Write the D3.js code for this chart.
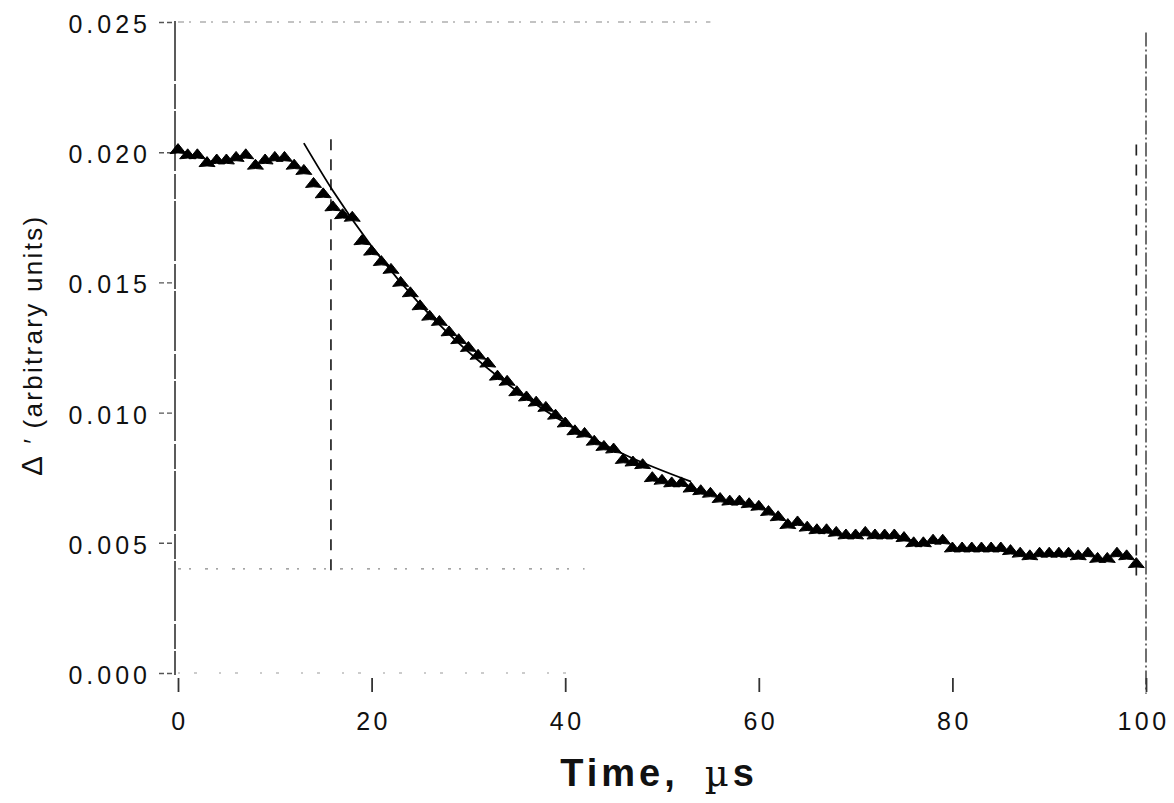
<!DOCTYPE html>
<html>
<head>
<meta charset="utf-8">
<script src="https://cdn.jsdelivr.net/npm/d3@7"></script>
<style>
  html, body { margin: 0; padding: 0; background: #fff; }
  svg { display: block; }
  text { font-family: "Liberation Sans", Arial, Helvetica, sans-serif; fill: #111; }
</style>
</head>
<body>
<svg id="chart" width="1174" height="803"></svg>
<script>
// Absorbance transient: time (µs) and signal (arbitrary units)
const timeUs = [
  0, 1, 2, 3, 4, 5, 6, 7, 8, 9,
  10, 11, 12, 13, 14, 15, 16, 17, 18, 19,
  20, 21, 22, 23, 24, 25, 26, 27, 28, 29,
  30, 31, 32, 33, 34, 35, 36, 37, 38, 39,
  40, 41, 42, 43, 44, 45, 46, 47, 48, 49,
  50, 51, 52, 53, 54, 55, 56, 57, 58, 59,
  60, 61, 62, 63, 64, 65, 66, 67, 68, 69,
  70, 71, 72, 73, 74, 75, 76, 77, 78, 79,
  80, 81, 82, 83, 84, 85, 86, 87, 88, 89,
  90, 91, 92, 93, 94, 95, 96, 97, 98, 99
];
const signal = [
  0.0201, 0.0199, 0.0199, 0.0196, 0.0197, 0.0197, 0.0198, 0.0199, 0.0195, 0.0197,
  0.0198, 0.0198, 0.0195, 0.0193, 0.0188, 0.0184, 0.0179, 0.0176, 0.0175, 0.0166,
  0.0162, 0.0158, 0.0155, 0.0150, 0.0146, 0.0141, 0.0137, 0.0135, 0.0131, 0.0128,
  0.0125, 0.0122, 0.0119, 0.0114, 0.0112, 0.0108, 0.0106, 0.0104, 0.0102, 0.0099,
  0.0096, 0.0093, 0.0092, 0.0089, 0.0087, 0.0086, 0.0082, 0.0081, 0.0080, 0.0075,
  0.0074, 0.0073, 0.0073, 0.0071, 0.0070, 0.0069, 0.0067, 0.0066, 0.0066, 0.0065,
  0.0064, 0.0062, 0.0060, 0.0057, 0.0058, 0.0056, 0.0055, 0.0055, 0.0054, 0.0053,
  0.0053, 0.0054, 0.0053, 0.0053, 0.0053, 0.0052, 0.0050, 0.0050, 0.0051, 0.0051,
  0.0048, 0.0048, 0.0048, 0.0048, 0.0048, 0.0048, 0.0047, 0.0046, 0.0045, 0.0046,
  0.0046, 0.0046, 0.0046, 0.0045, 0.0046, 0.0044, 0.0044, 0.0046, 0.0045, 0.0042
];

// Fitted decay curve
const fitTime  = [13, 16, 20, 25, 30, 35, 40, 46, 53];
const fitValue = [0.02035, 0.01852, 0.01639, 0.01416, 0.01233, 0.01083, 0.0096, 0.00841, 0.00735];

// Reference markers
const windowStart = 15.8;   // left cursor
const windowEnd = 99;       // right cursor
const baselineLevel = 0.004;
const baselineEnd = 42;

// Axis ticks
const xTicks = [0, 20, 40, 60, 80, 100];
const yTicks = [0, 0.005, 0.010, 0.015, 0.020, 0.025];

const svg = d3.select("#chart");
const x = d3.scaleLinear().domain([0, 100]).range([178, 1146]);
const y = d3.scaleLinear().domain([0, 0.025]).range([673, 22]);

const ink = "#111";

// frame remnants: left axis, faint top and bottom rules
svg.append("line")
  .attr("x1", x(0) - 3).attr("x2", x(0) - 3)
  .attr("y1", y(0.025) - 1).attr("y2", y(0) + 2)
  .attr("stroke", "#333").attr("stroke-width", 1.6)
  .attr("stroke-dasharray", "60,3,25,2");
svg.append("line")
  .attr("x1", x(0)).attr("x2", x(55))
  .attr("y1", y(0.025)).attr("y2", y(0.025))
  .attr("stroke", "#888").attr("stroke-width", 1.2)
  .attr("stroke-dasharray", "6,5,2,9");
svg.append("line")
  .attr("x1", x(0)).attr("x2", x(41))
  .attr("y1", y(0)).attr("y2", y(0))
  .attr("stroke", "#999").attr("stroke-width", 1.1)
  .attr("stroke-dasharray", "2,14,3,22");

// baseline level
svg.append("line")
  .attr("x1", x(0)).attr("x2", x(baselineEnd))
  .attr("y1", y(baselineLevel)).attr("y2", y(baselineLevel))
  .attr("stroke", "#888").attr("stroke-width", 1.1)
  .attr("stroke-dasharray", "3,8,2,14");

// cursors
svg.append("line")
  .attr("x1", x(windowStart)).attr("x2", x(windowStart))
  .attr("y1", y(0.0205)).attr("y2", y(0.0037))
  .attr("stroke", "#222").attr("stroke-width", 1.7)
  .attr("stroke-dasharray", "11,9");
svg.append("line")
  .attr("x1", x(windowEnd)).attr("x2", x(windowEnd))
  .attr("y1", y(0.0203)).attr("y2", y(0.0034))
  .attr("stroke", "#222").attr("stroke-width", 1.7)
  .attr("stroke-dasharray", "11,9");
svg.append("line")
  .attr("x1", x(100)).attr("x2", x(100))
  .attr("y1", y(0.0246)).attr("y2", y(-0.0008))
  .attr("stroke", "#333").attr("stroke-width", 1.4)
  .attr("stroke-dasharray", "14,3,2,3");

// x axis
const gx = svg.append("g")
  .attr("transform", `translate(0,${y(0) + 5})`)
  .call(d3.axisBottom(x).tickValues(xTicks).tickSize(14).tickFormat(d => d));
gx.select(".domain").remove();
gx.selectAll(".tick line").attr("stroke", "#333").attr("stroke-width", 1.8);
gx.selectAll(".tick text")
  .attr("y", 34).attr("dy", "0.71em")
  .style("font-size", "25px").style("letter-spacing", "3.5px")
  .attr("dx", "1.5px")
  .attr("fill", ink);
// keep the last label inside the page edge
gx.selectAll(".tick text").filter(d => d === 100).attr("dx", "-3px");

// y axis
const gy = svg.append("g")
  .attr("transform", `translate(${x(0) - 6},0)`)
  .call(d3.axisLeft(y).tickValues(yTicks).tickSize(14).tickFormat(d3.format(".3f")));
gy.select(".domain").remove();
gy.selectAll(".tick line").attr("stroke", "#555").attr("stroke-width", 1.4)
  .attr("stroke-dasharray", "5,3");
gy.selectAll(".tick text")
  .attr("x", -21).attr("dy", "0.42em")
  .style("font-size", "25px").style("letter-spacing", "4px")
  .attr("fill", ink);

// data markers: filled triangles
const tri = "M-8,4 Q0,2.6 8,4 L0,-6 Z";
svg.append("g").selectAll("path")
  .data(timeUs.map((t, i) => [t, signal[i]]))
  .join("path")
  .attr("d", tri)
  .attr("transform", d => `translate(${x(d[0])},${y(d[1])})`)
  .attr("fill", "#000")
  .attr("stroke", "#000").attr("stroke-width", 1).attr("stroke-linejoin", "round");

// fitted curve
svg.append("path")
  .datum(fitTime.map((t, i) => [t, fitValue[i]]))
  .attr("d", d3.line().x(d => x(d[0])).y(d => y(d[1])).curve(d3.curveMonotoneX))
  .attr("fill", "none").attr("stroke", "#000").attr("stroke-width", 1.8);

// axis titles
const xt = svg.append("text")
  .attr("x", 659).attr("y", 786)
  .attr("text-anchor", "middle")
  .style("font-size", "38px").style("font-weight", "bold").style("letter-spacing", "4px");
xt.append("tspan").text("Time,");
xt.append("tspan").attr("dx", 26).style("font-family", "'DejaVu Serif', serif")
  .style("font-weight", "normal").style("font-size", "37px").text("µ");
xt.append("tspan").text("s");

const yt = svg.append("text")
  .attr("transform", "translate(42,476) rotate(-90)")
  .attr("text-anchor", "start")
  .style("font-size", "26px").style("letter-spacing", "2.3px");
yt.append("tspan").style("font-size", "30px").text("Δ");
yt.append("tspan").attr("dx", 10).text("′");
yt.append("tspan").attr("dx", 8).text("(arbitrary units)");
</script>
</body>
</html>
